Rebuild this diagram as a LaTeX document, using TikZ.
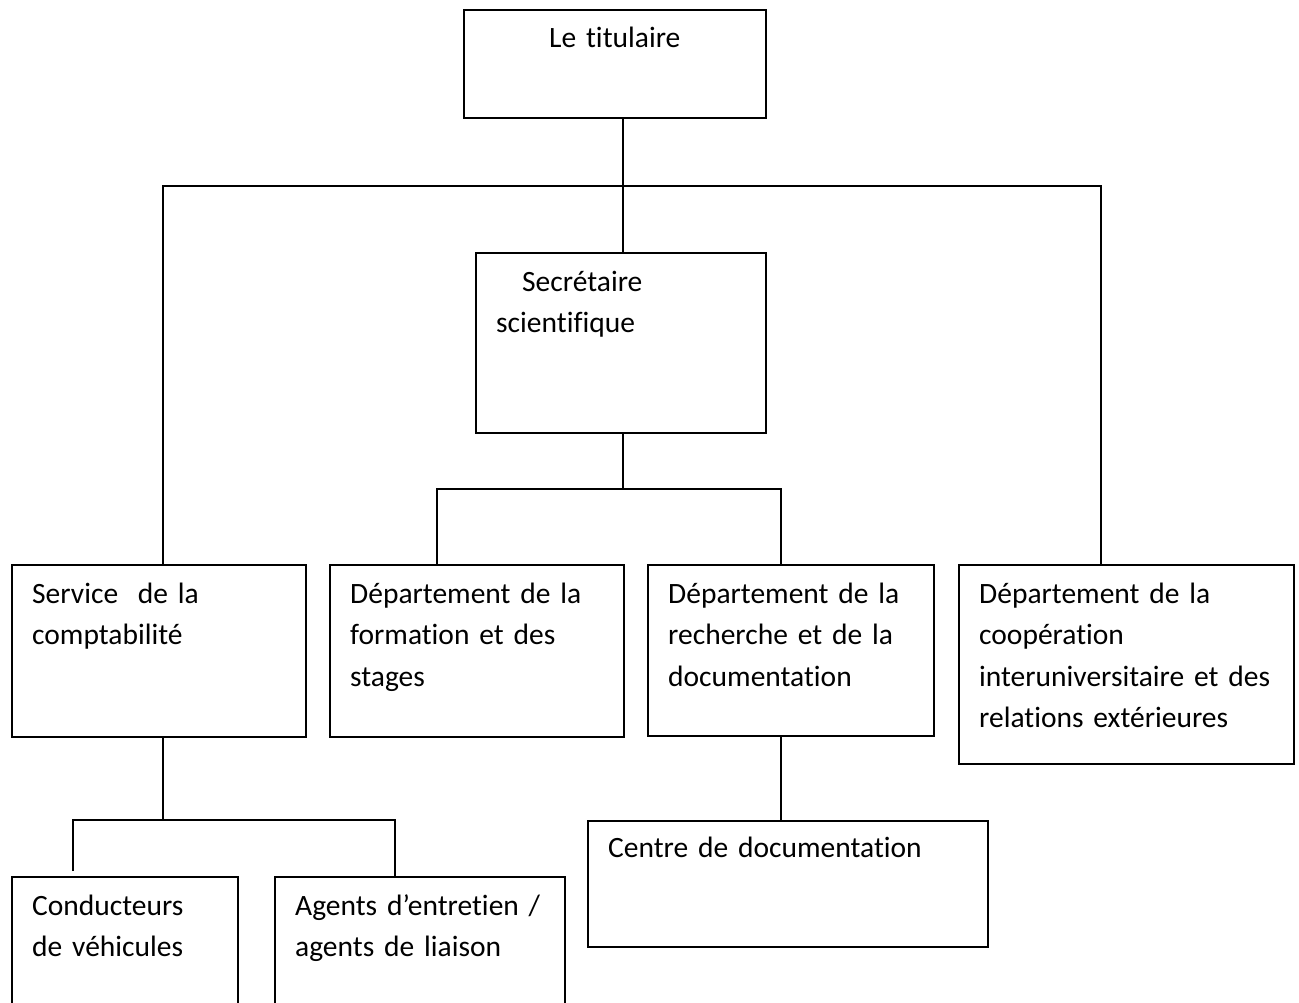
\documentclass[tikz,border=0pt]{standalone}
\usepackage{fontspec}
\setmainfont{Carlito}[Ligatures=NoCommon, WordSpace=0.8]

\begin{document}
\begin{tikzpicture}[x=1pt, y=-1pt,
	unit/.style={draw, line width=1.6pt, rectangle, inner sep=0pt, anchor=north west},
	txt/.style={inner sep=0pt, font=\fontsize{29.5}{41.5}\selectfont, yshift=-39pt},
	lbl/.style={txt, anchor=base west, text width=320pt, align=left, xshift=21pt},
	midlbl/.style={txt, anchor=base, text width=280pt, align=center},
	link/.style={line width=1.6pt}]
	\useasboundingbox (0, 0) rectangle (1299, 1003);

	% top level
	\node [unit, minimum width=302, minimum height=108,
	label={[midlbl]north:Le titulaire}] (tit) at (463, 9) {};

	\node [unit, minimum width=290, minimum height=180,
	label={[lbl]north west:\hspace*{26pt}Secrétaire\\scientifique}]
	(sec) at (475, 252) {};

	% second row
	\node [unit, minimum width=294, minimum height=172,
	label={[lbl]north west:Service\ \ de la\\comptabilité}] (serv) at (11, 564) {};
	\node [unit, minimum width=294, minimum height=172,
	label={[lbl]north west:Département de la\\formation et des\\stages}] (form) at (329, 564) {};
	\node [unit, minimum width=286, minimum height=171,
	label={[lbl]north west:Département de la\\recherche et de la\\documentation}] (rech) at (647, 564) {};
	\node [unit, minimum width=335, minimum height=199,
	label={[lbl]north west:Département de la\\coopération\\interuniversitaire et des\\relations extérieures}]
	(coop) at (958, 564) {};

	% bottom row
	\node [unit, minimum width=400, minimum height=126,
	label={[lbl, yshift=2pt]north west:Centre de documentation}] (centre) at (587, 820) {};
	\node [unit, minimum width=226, minimum height=200,
	label={[lbl]north west:Conducteurs\\de véhicules}] (cond) at (11, 876) {};
	\node [unit, minimum width=290, minimum height=200,
	label={[lbl]north west:Agents d’entretien /\\agents de liaison}] (agent) at (274, 876) {};

	% bars
	\coordinate (top) at (623, 186);
	\coordinate (barL) at (163, 186);
	\coordinate (barR) at (1101, 186);
	\coordinate (subL) at (437, 489);
	\coordinate (subR) at (781, 489);
	\coordinate (lowL) at (73, 820);
	\coordinate (lowR) at (395, 820);

	\draw [link] (tit.south -| top) -- (sec.north -| top);
	\draw [link] (serv.north -| barL) -- (barL) -- (barR) -- (coop.north -| barR);

	\draw [link] (sec.south -| top) -- (top |- subL);
	\draw [link] (form.north -| subL) -- (subL) -- (subR) -- (rech.north -| subR);
	\draw [link] (rech.south -| subR) -- (centre.north -| subR);

	\draw [link] (serv.south -| barL) -- (barL |- lowL);
	\draw [link, shorten <=5pt] (cond.north -| lowL) -- (lowL) -- (lowR) -- (agent.north -| lowR);
\end{tikzpicture}
\end{document}
